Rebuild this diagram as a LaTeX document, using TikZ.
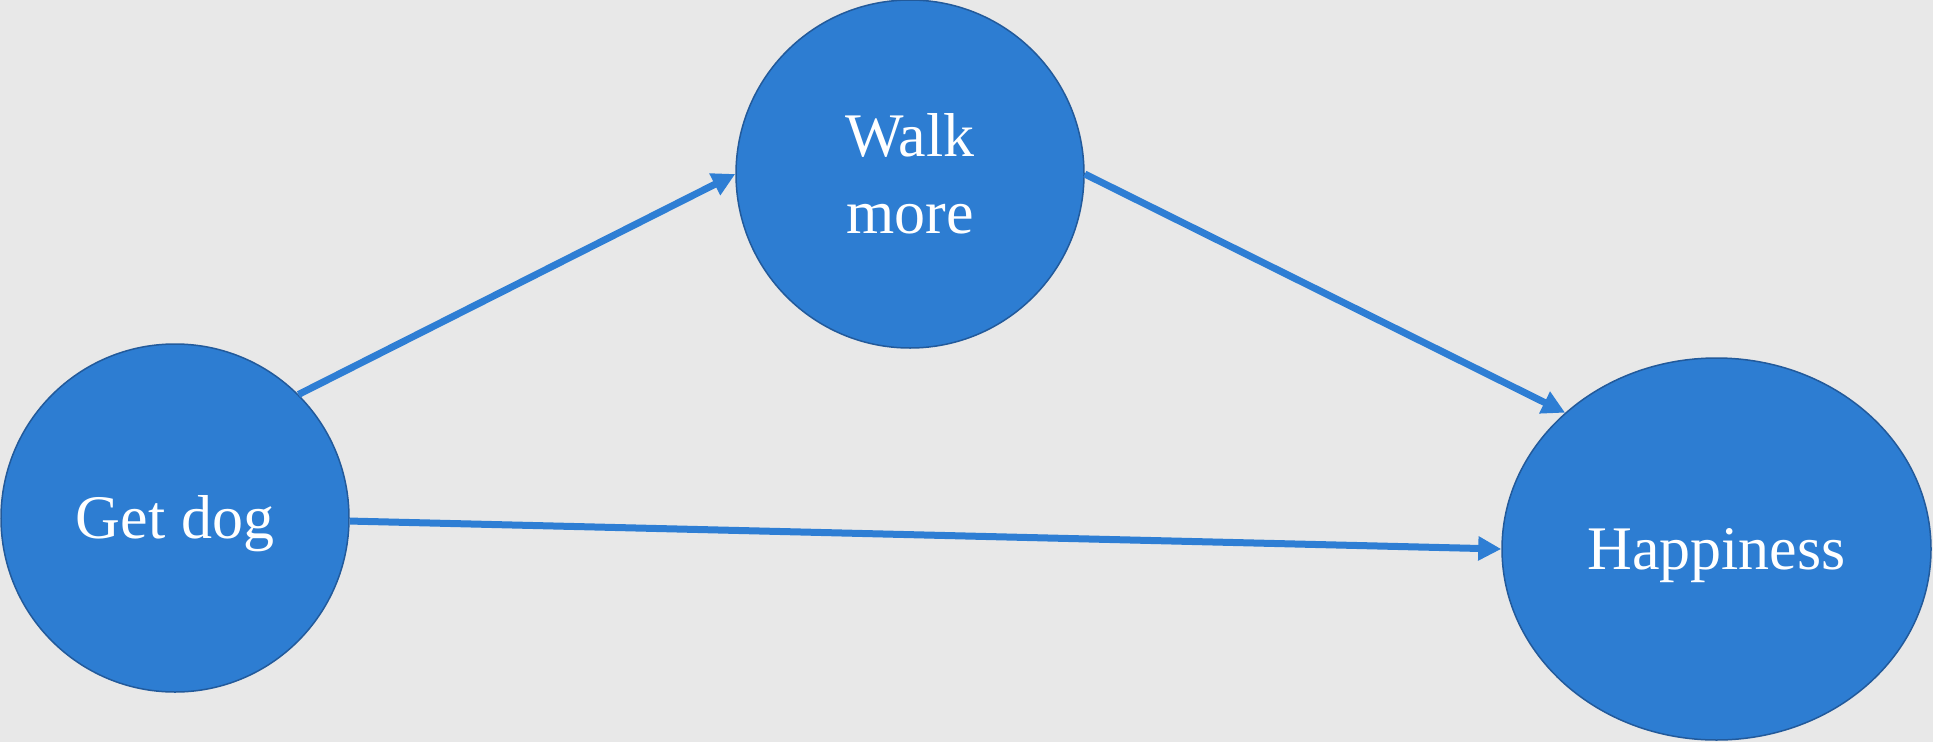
\documentclass[tikz,border=0pt]{standalone}
\usepackage{fontspec}
\setmainfont{Liberation Serif}
\usetikzlibrary{shapes.geometric,arrows.meta}
\definecolor{bgc}{RGB}{232,232,232}
\definecolor{fillc}{RGB}{45,125,210}
\definecolor{edgec}{RGB}{34,90,155}
\definecolor{arrc}{RGB}{46,126,212}
\tikzset{
  bubble/.style={circle, draw=edgec, line width=1.5pt, fill=fillc, inner sep=0pt,
    minimum size=348pt, text=white, font=\fontsize{62}{77}\selectfont, align=center},
  oval/.style={ellipse, draw=edgec, line width=1.5pt, fill=fillc, inner sep=0pt,
    minimum width=429pt, minimum height=382pt, text=white, font=\fontsize{62}{77}\selectfont},
  link/.style={draw=arrc, line width=7pt, -{Triangle[length=23pt,width=23pt]}}
}
\begin{document}
\begin{tikzpicture}[x=1pt,y=-1pt]
\fill[bgc] (0,0) rectangle (1933,742);
\useasboundingbox (0,0) rectangle (1933,742);
\node[bubble, text height=41pt, text depth=0pt] (G) at (175,518) {Get dog};
\node[bubble, text height=118pt, text depth=0pt] (W) at (910,174) {Walk\\more};
\node[oval, text height=41pt, text depth=0pt] (H) at (1716.5,549) {Happiness};
\draw[link] (G.45) -- (W.west);
\draw[link] (W.east) -- (H.138.5);
\draw[link] (G.-1.3) -- (H.west);
\end{tikzpicture}
\end{document}
